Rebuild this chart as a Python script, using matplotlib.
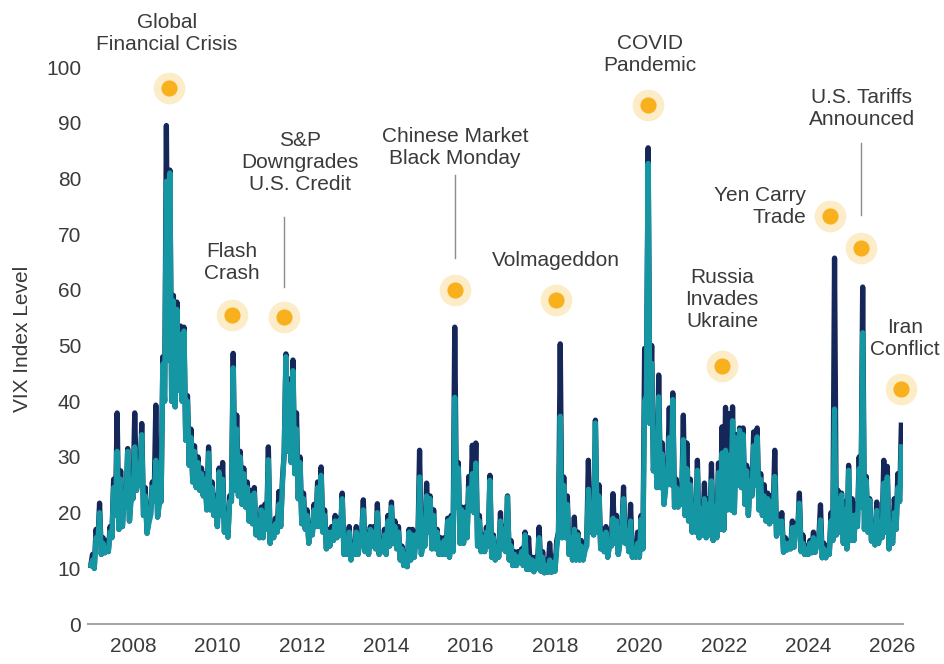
import numpy as np
import matplotlib
matplotlib.use("Agg")
import matplotlib.pyplot as plt

plt.rcParams['font.family'] = ['Liberation Sans', 'DejaVu Sans']

# monthly VIX readings, Jan 2007 .. Mar 2026
# lowest weekly close in the month
close_low = [
    10.5, 10.0, 14.5, 12.5, 12.8, 13.0, 15.5, 19.5, 17.0, 17.5, 21.0, 18.5,  # 2007
    22.5, 24.0, 25.0, 19.5, 16.3, 19.5, 22.0, 19.2, 22.0, 40.0, 47.4, 40.0,  # 2008
    39.0, 42.0, 40.0, 33.0, 28.5, 25.5, 24.5, 24.0, 23.0, 20.5, 20.5, 19.5,  # 2009
    17.5, 19.5, 16.5, 15.6, 22.0, 24.0, 23.0, 21.5, 21.0, 18.5, 18.0, 16.0,  # 2010
    15.5, 15.5, 17.0, 14.5, 15.5, 16.5, 17.5, 30.7, 31.0, 29.0, 27.0, 22.5,  # 2011
    18.0, 17.0, 14.5, 16.0, 17.5, 17.5, 16.5, 13.5, 14.0, 15.0, 15.5, 16.0,  # 2012
    12.5, 12.5, 11.5, 12.5, 12.5, 15.5, 13.0, 12.5, 14.0, 13.5, 12.5, 13.0,  # 2013
    12.5, 14.0, 14.5, 13.5, 11.5, 10.5, 10.3, 11.5, 12.0, 14.0, 12.5, 14.0,  # 2014
    16.5, 13.5, 13.5, 12.5, 12.5, 12.5, 12.0, 13.0, 21.0, 14.5, 14.5, 15.5,  # 2015
    20.5, 20.0, 14.0, 13.0, 13.0, 14.0, 12.0, 11.5, 12.0, 13.5, 13.0, 11.5,  # 2016
    10.5, 10.5, 11.0, 10.5, 9.8, 9.8, 9.4, 10.0, 9.5, 9.2, 9.3, 9.3,  # 2017
    9.5, 16.5, 15.5, 15.5, 12.5, 11.5, 11.5, 11.5, 11.5, 14.0, 16.5, 16.0,  # 2018
    16.5, 13.5, 13.0, 12.0, 14.0, 14.5, 12.5, 16.5, 14.5, 13.0, 12.0, 12.0,  # 2019
    12.0, 13.5, 41.0, 36.0, 27.5, 24.5, 24.5, 21.5, 25.5, 25.0, 21.0, 21.0,  # 2020
    21.5, 19.5, 18.5, 16.5, 16.5, 15.5, 16.0, 15.5, 16.0, 15.0, 15.5, 17.0,  # 2021
    16.9, 20.5, 20.5, 20.0, 25.0, 24.5, 21.5, 19.5, 23.0, 25.0, 20.5, 19.5,  # 2022
    18.5, 18.0, 18.5, 15.8, 16.5, 12.9, 13.3, 13.5, 13.8, 16.5, 13.0, 12.5,  # 2023
    12.5, 12.8, 12.9, 15.0, 11.9, 11.9, 12.5, 15.0, 16.0, 16.5, 14.5, 13.5,  # 2024
    15.0, 15.0, 17.5, 21.0, 17.0, 16.5, 14.9, 14.2, 14.5, 15.5, 16.5, 13.5,  # 2025
    14.5, 17.0, 22.0,  # 2026
]

# highest weekly close in the month
close_high = [
    11.5, 15.5, 20.0, 14.5, 13.5, 16.5, 24.5, 31.0, 26.0, 22.5, 31.0, 22.5,  # 2007
    31.8, 28.5, 34.0, 23.0, 18.0, 24.6, 29.4, 21.5, 46.7, 79.5, 81.0, 58.0,  # 2008
    56.5, 52.0, 52.6, 40.0, 33.5, 31.0, 29.0, 27.0, 26.0, 30.7, 24.5, 22.0,  # 2009
    27.3, 26.0, 19.5, 22.0, 46.0, 35.0, 30.0, 27.0, 24.5, 23.0, 23.5, 18.5,  # 2010
    20.5, 20.0, 29.5, 17.5, 18.0, 21.5, 25.0, 48.0, 43.0, 45.5, 35.0, 29.0,  # 2011
    22.5, 19.5, 17.5, 20.5, 24.5, 26.7, 19.5, 16.5, 16.5, 18.5, 18.5, 22.5,  # 2012
    14.5, 16.5, 14.0, 16.5, 14.5, 20.5, 16.0, 17.0, 16.5, 20.0, 13.5, 16.0,  # 2013
    18.5, 21.0, 17.5, 16.5, 13.5, 12.5, 16.5, 16.0, 16.0, 26.4, 14.5, 23.0,  # 2014
    22.5, 19.5, 16.5, 14.5, 15.0, 18.5, 19.0, 40.7, 28.0, 20.5, 20.0, 24.4,  # 2015
    27.0, 28.9, 18.5, 15.5, 16.5, 25.8, 15.5, 13.5, 18.5, 17.0, 22.8, 14.0,  # 2016
    12.5, 12.0, 13.0, 16.0, 12.0, 11.5, 11.2, 15.5, 12.0, 10.5, 11.5, 11.0,  # 2017
    13.5, 37.3, 24.9, 21.5, 15.5, 17.0, 16.0, 14.0, 13.0, 24.2, 21.5, 36.1,  # 2018
    23.0, 16.0, 16.5, 14.0, 19.0, 18.5, 14.5, 22.5, 16.5, 18.5, 13.0, 14.5,  # 2019
    18.8, 40.1, 82.7, 46.8, 33.5, 40.8, 30.5, 24.5, 33.5, 40.3, 24.5, 24.0,  # 2020
    33.1, 27.9, 25.0, 18.5, 27.6, 20.7, 22.5, 21.5, 25.7, 21.0, 27.2, 30.7,  # 2021
    31.2, 30.3, 36.5, 33.4, 34.8, 34.0, 27.5, 25.5, 32.0, 33.6, 26.0, 23.0,  # 2022
    22.5, 22.0, 26.5, 18.5, 18.5, 14.5, 14.5, 17.3, 17.5, 21.7, 14.5, 13.5,  # 2023
    14.5, 15.5, 14.5, 18.7, 13.5, 13.2, 18.5, 38.6, 22.4, 23.2, 20.5, 27.6,  # 2024
    19.5, 19.6, 27.9, 52.3, 25.8, 22.2, 17.5, 20.4, 16.5, 25.3, 26.4, 17.5,  # 2025
    20.0, 24.5, 31.8,  # 2026
]

# highest intraday level in the month
intraday_high = [
    12.5, 17.0, 21.7, 15.5, 15.0, 17.5, 26.0, 37.9, 27.5, 23.5, 31.5, 23.5,  # 2007
    37.9, 30.0, 36.0, 24.5, 19.0, 25.5, 39.3, 22.5, 48.0, 89.5, 81.5, 59.0,  # 2008
    57.8, 53.5, 53.3, 41.0, 35.0, 32.0, 30.0, 28.0, 27.0, 31.8, 25.5, 23.0,  # 2009
    28.0, 29.0, 20.5, 23.0, 48.6, 37.5, 31.0, 28.0, 25.5, 24.0, 24.5, 19.5,  # 2010
    21.0, 21.5, 31.8, 18.0, 19.0, 23.8, 26.0, 48.5, 44.0, 47.4, 37.9, 30.0,  # 2011
    23.5, 20.5, 18.0, 21.5, 25.5, 28.2, 20.5, 17.0, 17.5, 19.5, 19.0, 23.5,  # 2012
    15.0, 17.5, 14.5, 17.5, 15.5, 22.3, 16.5, 17.5, 17.5, 21.6, 14.5, 17.0,  # 2013
    19.5, 21.9, 18.5, 17.5, 14.0, 13.0, 17.0, 17.0, 16.5, 31.2, 15.0, 25.3,  # 2014
    23.0, 20.5, 17.0, 15.5, 15.5, 19.0, 19.5, 53.3, 29.0, 21.0, 21.0, 26.5,  # 2015
    32.1, 32.5, 19.5, 16.0, 17.4, 26.7, 16.0, 14.0, 20.0, 17.5, 23.0, 15.0,  # 2016
    13.0, 13.0, 13.5, 16.5, 15.5, 12.0, 12.0, 17.4, 13.0, 11.5, 14.5, 12.0,  # 2017
    15.0, 50.3, 26.4, 23.0, 16.5, 19.2, 16.5, 15.0, 14.0, 29.4, 23.5, 36.6,  # 2018
    25.0, 17.0, 17.5, 14.5, 23.4, 19.5, 15.0, 24.6, 17.5, 21.5, 13.5, 16.5,  # 2019
    19.5, 49.5, 85.5, 50.0, 35.5, 44.7, 32.5, 25.5, 38.8, 41.5, 26.0, 25.0,  # 2020
    37.5, 32.5, 26.0, 19.5, 29.4, 22.0, 25.3, 22.5, 28.8, 22.0, 28.9, 35.4,  # 2021
    38.9, 37.8, 39.0, 34.0, 35.2, 35.2, 28.5, 27.7, 34.5, 35.2, 27.0, 25.0,  # 2022
    23.5, 23.0, 31.2, 19.5, 20.0, 15.5, 15.0, 18.5, 18.0, 23.5, 16.0, 14.0,  # 2023
    15.0, 16.5, 15.0, 21.4, 14.5, 14.0, 20.0, 65.7, 24.0, 23.5, 22.0, 28.5,  # 2024
    22.5, 21.5, 30.0, 60.5, 26.5, 22.5, 18.0, 21.9, 17.5, 29.4, 28.3, 18.5,  # 2025
    22.5, 27.0, 35.7,  # 2026
]

year_ticks = [2008, 2010, 2012, 2014, 2016, 2018, 2020, 2022, 2024, 2026]

# event markers: label, event date, marker level
events = [
    ("Global\nFinancial Crisis", 2008.85, 96.2),
    ("Flash\nCrash", 2010.35, 55.5),
    ("S&P\nDowngrades\nU.S. Credit", 2011.58, 55.1),
    ("Chinese Market\nBlack Monday", 2015.63, 60.0),
    ("Volmageddon", 2018.02, 58.2),
    ("COVID\nPandemic", 2020.20, 93.2),
    ("Russia\nInvades\nUkraine", 2021.96, 46.3),
    ("Yen Carry\nTrade", 2024.52, 73.2),
    ("U.S. Tariffs\nAnnounced", 2025.25, 67.5),
    ("Iran\nConflict", 2026.20, 42.2),
]
# label placement (x, y, ha) and optional leader line (y0, y1)
label_pos = [
    (2008.81, 106.1, "center", None),
    (2010.35, 65.0, "center", None),
    (2011.96, 82.9, "center", (60.5, 73.1)),
    (2015.63, 85.6, "center", (65.7, 80.6)),
    (2018.02, 65.3, "center", None),
    (2020.25, 102.2, "center", None),
    (2021.96, 58.2, "center", None),
    (2023.95, 74.9, "right", None),
    (2025.27, 92.6, "center", (73.4, 86.4)),
    (2026.29, 51.3, "center", None),
]

navy = "#152659"
teal = "#1496a3"
txt = "#3a3a3a"

n = len(close_low)
t = 2007 + np.arange(n) / 12.0
x = np.empty(2 * n)
x[0::2] = t
x[1::2] = t + 0.5 / 12
y_close = np.empty(2 * n)
y_close[0::2] = close_low
y_close[1::2] = close_high
y_high = np.empty(2 * n)
y_high[0::2] = close_low
y_high[1::2] = intraday_high

fig = plt.figure(figsize=(9.45, 6.64), dpi=100)
ax = fig.add_axes([0.0931, 0.0602, 0.8624, 0.8388])

ax.plot(x, y_high, color=navy, lw=3.8, solid_joinstyle="round", zorder=2)
ax.plot(x, y_close, color=teal, lw=3.8, solid_joinstyle="round", zorder=3)

ax.set_xlim(2006.934, 2026.246)
ax.set_ylim(0, 100)
ax.set_yticks(range(0, 101, 10))
ax.set_xticks(year_ticks)
ax.set_xticklabels([str(y) for y in year_ticks])
ax.tick_params(axis="both", length=0, labelsize=15, labelcolor=txt)
ax.tick_params(axis="x", pad=9)
ax.tick_params(axis="y", pad=5)
for s in ["top", "right", "left"]:
    ax.spines[s].set_visible(False)
ax.spines["bottom"].set_color("#a6a6a6")
ax.spines["bottom"].set_linewidth(1.5)

fig.text(0.024, 0.49, "VIX Index Level", rotation=90, ha="center", va="center",
         fontsize=15, color=txt)

for (label, ex, ey), (lx, ly, ha, lead) in zip(events, label_pos):
    ax.scatter([ex], [ey], s=520, color="#fcecc8", zorder=5, clip_on=False, linewidths=0)
    ax.scatter([ex], [ey], s=135, color="#f8b01c", zorder=6, clip_on=False, linewidths=0)
    ax.text(lx, ly, label, ha=ha, va="center", fontsize=15, color=txt,
            linespacing=1.2, zorder=7, clip_on=False)
    if lead is not None:
        ax.plot([ex, ex], list(lead), color="#8c8c8c", lw=1, zorder=4, clip_on=False)

fig.savefig("out.png", dpi=100)
